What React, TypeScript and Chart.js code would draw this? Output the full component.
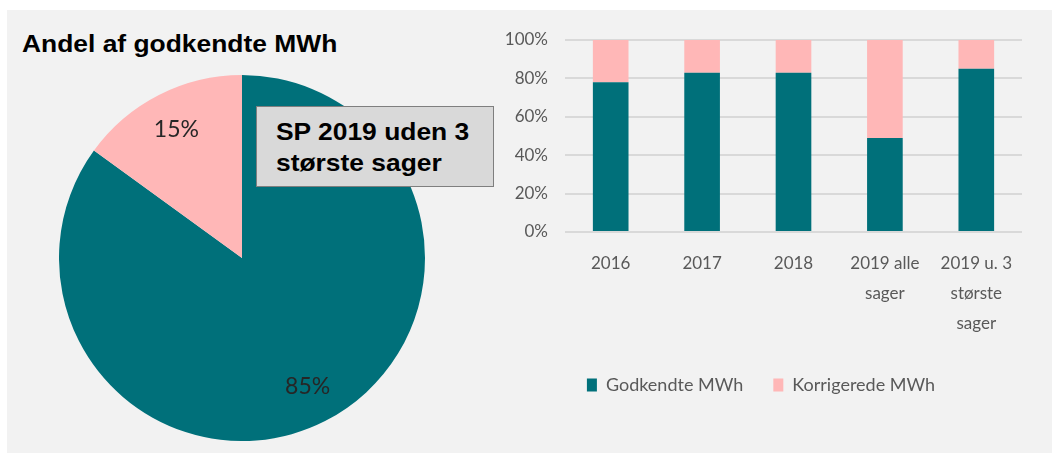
import React, { useEffect, useRef } from "react";
import { Chart, registerables } from "chart.js";

Chart.register(...registerables);

// ---- data ----
const pieLabels = ["Godkendte MWh", "Korrigerede MWh"];
const pieValues = [85, 15];

const categories = [["2016"], ["2017"], ["2018"], ["2019 alle", "sager"], ["2019 u. 3", "største", "sager"]];
const godkendte = [78, 83, 83, 49, 85];
const korrigerede = [22, 17, 17, 51, 15];
const seriesNames = ["Godkendte MWh", "Korrigerede MWh"];
const yTicks = [0, 20, 40, 60, 80, 100];

const TEAL = "#00707a";
const PINK = "#ffb7b7";
const AXIS_TEXT = "#595959";

const pieLabelPlugin = {
  id: "pieLabelPlugin",
  afterDatasetsDraw(chart: any) {
    const meta = chart.getDatasetMeta(0);
    const ctx = chart.ctx;
    ctx.save();
    ctx.font = "23px Lato";
    ctx.fillStyle = "#262626";
    ctx.textAlign = "center";
    ctx.textBaseline = "middle";
    meta.data.forEach((arc: any, i: number) => {
      const p = arc.getProps(["startAngle", "endAngle", "outerRadius", "x", "y"], true);
      const mid = (p.startAngle + p.endAngle) / 2;
      const r = p.outerRadius * 0.79;
      ctx.fillText(pieValues[i] + "%", p.x + Math.cos(mid) * r, p.y + Math.sin(mid) * r);
    });
    ctx.restore();
  },
};

export default function App() {
  const pieRef = useRef<HTMLCanvasElement>(null);
  const barRef = useRef<HTMLCanvasElement>(null);

  useEffect(() => {
    const pie = new Chart(pieRef.current as HTMLCanvasElement, {
      type: "pie",
      data: {
        labels: pieLabels,
        datasets: [{ data: pieValues, backgroundColor: [TEAL, PINK], borderWidth: 0 }],
      },
      options: {
        animation: false,
        responsive: false,
        layout: { padding: 0 },
        plugins: { legend: { display: false }, tooltip: { enabled: false } },
      },
      plugins: [pieLabelPlugin],
    });

    const font = { family: "Lato", size: 17 };
    const bar = new Chart(barRef.current as HTMLCanvasElement, {
      type: "bar",
      data: {
        labels: categories,
        datasets: [
          { label: seriesNames[0], data: godkendte, backgroundColor: TEAL },
          { label: seriesNames[1], data: korrigerede, backgroundColor: PINK },
        ],
      },
      options: {
        animation: false,
        responsive: false,
        layout: { padding: { top: 40, right: 8, bottom: 16, left: 0 } },
        datasets: { bar: { barPercentage: 0.39, categoryPercentage: 1 } },
        scales: {
          x: {
            stacked: true,
            grid: { display: false, drawTicks: false },
            border: { display: false },
            ticks: {
              font: { ...font, lineHeight: 1.75 },
              color: AXIS_TEXT,
              maxRotation: 0,
              autoSkip: false,
              padding: 17,
            },
            afterFit: (s: any) => {
              s.height = 114;
            },
          },
          y: {
            stacked: true,
            min: 0,
            max: 100,
            afterBuildTicks: (s: any) => {
              s.ticks = yTicks.map((v) => ({ value: v }));
            },
            ticks: {
              font,
              color: AXIS_TEXT,
              padding: 17,
              callback: (v: any) => v + "%",
            },
            grid: { color: "#d9d9d9", lineWidth: 2, drawTicks: false },
            border: { display: false },
            afterFit: (s: any) => {
              s.width = 65;
            },
          },
        },
        plugins: {
          legend: {
            position: "bottom",
            labels: { boxWidth: 10, boxHeight: 13, padding: 30, font: { family: "Lato", size: 18 }, color: AXIS_TEXT },
          },
          tooltip: { enabled: false },
        },
      },
    });

    return () => {
      pie.destroy();
      bar.destroy();
    };
  }, []);

  return (
    <div style={{ position: "fixed", left: 0, top: 0, width: 1052, height: 454, background: "#ffffff", overflow: "hidden" }}>
      <div style={{ position: "absolute", left: 7, top: 10, width: 1045, height: 443, background: "#f2f2f2" }} />
      <div
        style={{
          position: "absolute",
          left: 22,
          top: 32,
          fontFamily: "'Liberation Sans', Arial, sans-serif",
          fontWeight: "bold",
          fontSize: 24,
          lineHeight: "24px",
          color: "#000",
          whiteSpace: "nowrap",
          transform: "scaleX(1.1)",
          transformOrigin: "left top",
        }}
      >
        Andel af godkendte MWh
      </div>
      <canvas ref={pieRef} width={366} height={366} style={{ position: "absolute", left: 59, top: 75, width: 366, height: 366 }} />
      <div
        style={{
          position: "absolute",
          left: 256,
          top: 106,
          width: 236,
          height: 79,
          background: "#d9d9d9",
          border: "1px solid #7f7f7f",
          boxSizing: "content-box",
        }}
      >
        <div
          style={{
            position: "absolute",
            left: 19,
            top: 9,
            fontFamily: "'Liberation Sans', Arial, sans-serif",
            fontWeight: "bold",
            fontSize: 24,
            lineHeight: "31px",
            color: "#000",
            whiteSpace: "nowrap",
            transform: "scaleX(1.1)",
            transformOrigin: "left top",
          }}
        >
          SP 2019 uden 3
          <br />
          største sager
        </div>
      </div>
      <canvas ref={barRef} width={530} height={420} style={{ position: "absolute", left: 500, top: 0, width: 530, height: 420 }} />
    </div>
  );
}
